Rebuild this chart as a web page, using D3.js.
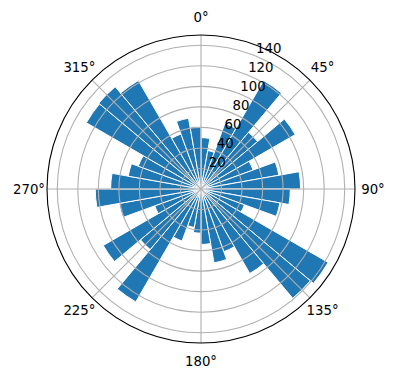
<!DOCTYPE html>
<html>
<head>
<meta charset="utf-8">
<script src="https://cdn.jsdelivr.net/npm/d3@7"></script>
<style>
  body { margin: 0; background: #fff; }
  text { font-family: "DejaVu Sans", sans-serif; }
</style>
</head>
<body>
<div id="chart"></div>
<script>
// bar start angles (deg, clockwise from north) and bar lengths
var binAngles = [0, 10, 20, 30, 40, 50, 60, 70, 80, 90, 100, 110,
                 120, 130, 140, 150, 160, 170, 180, 190, 200, 210, 220, 230,
                 240, 250, 260, 270, 280, 290, 300, 310, 320, 330, 340, 350];
var radii = [50, 38, 68, 122, 72, 106, 54, 77, 97, 87, 78, 45,
             143, 139, 95, 65, 73, 54, 43, 38, 54, 127, 77, 110,
             48, 81, 103, 88, 72, 65, 129, 130, 122, 57, 70, 61];
var binWidth = 10;
var rTicks = [20, 40, 60, 80, 100, 120, 140];
var thetaTicks = [0, 45, 90, 135, 180, 225, 270, 315];
var rMax = 150;

var width = 396, height = 380;
var cx = 201, cy = 189, R = 154;

var svg = d3.select("#chart").append("svg")
    .attr("width", width)
    .attr("height", height)
    .style("background-color", "#fff");

var g = svg.append("g").attr("transform", "translate(" + cx + "," + cy + ")");

var r = d3.scaleLinear().domain([0, rMax]).range([0, R]);
var theta = d3.scaleLinear().domain([0, 360]).range([0, 2 * Math.PI]);

var data = binAngles.map(function (a, i) { return {a: a, v: radii[i]}; });

// bars
var arc = d3.arc()
    .innerRadius(0)
    .outerRadius(function (d) { return r(d.v); })
    .startAngle(function (d) { return theta(d.a); })
    .endAngle(function (d) { return theta(d.a + binWidth); });

g.append("g").attr("class", "bars")
    .selectAll("path")
    .data(data)
    .enter().append("path")
    .attr("d", arc)
    .attr("fill", "#1f77b4")
    .attr("stroke", "#fff")
    .attr("stroke-width", 1);

// grid circles
var grid = g.append("g").attr("class", "grid");
grid.selectAll("circle")
    .data(rTicks)
    .enter().append("circle")
    .attr("r", function (d) { return r(d); })
    .attr("fill", "none")
    .attr("stroke", "#b0b0b0")
    .attr("stroke-width", 1.1);

// spokes
grid.selectAll("line")
    .data(thetaTicks)
    .enter().append("line")
    .attr("x1", 0).attr("y1", 0)
    .attr("x2", function (d) { return R * Math.sin(theta(d)); })
    .attr("y2", function (d) { return -R * Math.cos(theta(d)); })
    .attr("stroke", "#b0b0b0")
    .attr("stroke-width", 1.1);

// outer frame
g.append("circle")
    .attr("r", R)
    .attr("fill", "none")
    .attr("stroke", "#000")
    .attr("stroke-width", 1.1);

// angle labels
g.append("g").attr("class", "thetaLabels")
    .selectAll("text")
    .data(thetaTicks)
    .enter().append("text")
    .attr("x", function (d) { return (R + 18) * Math.sin(theta(d)); })
    .attr("y", function (d) { return -(R + 18) * Math.cos(theta(d)); })
    .attr("dy", "0.35em")
    .attr("text-anchor", "middle")
    .attr("font-size", "13.3px")
    .attr("fill", "#000")
    .text(function (d) { return d + "°"; });

// radial labels along 22.5 deg
var labAng = theta(22.5);
g.append("g").attr("class", "rLabels")
    .selectAll("text")
    .data(rTicks)
    .enter().append("text")
    .attr("x", function (d) { return r(d) * Math.sin(labAng); })
    .attr("y", function (d) { return -r(d) * Math.cos(labAng) - 3; })
    .attr("text-anchor", "start")
    .attr("font-size", "13.3px")
    .attr("fill", "#000")
    .text(function (d) { return d; });
</script>
</body>
</html>
